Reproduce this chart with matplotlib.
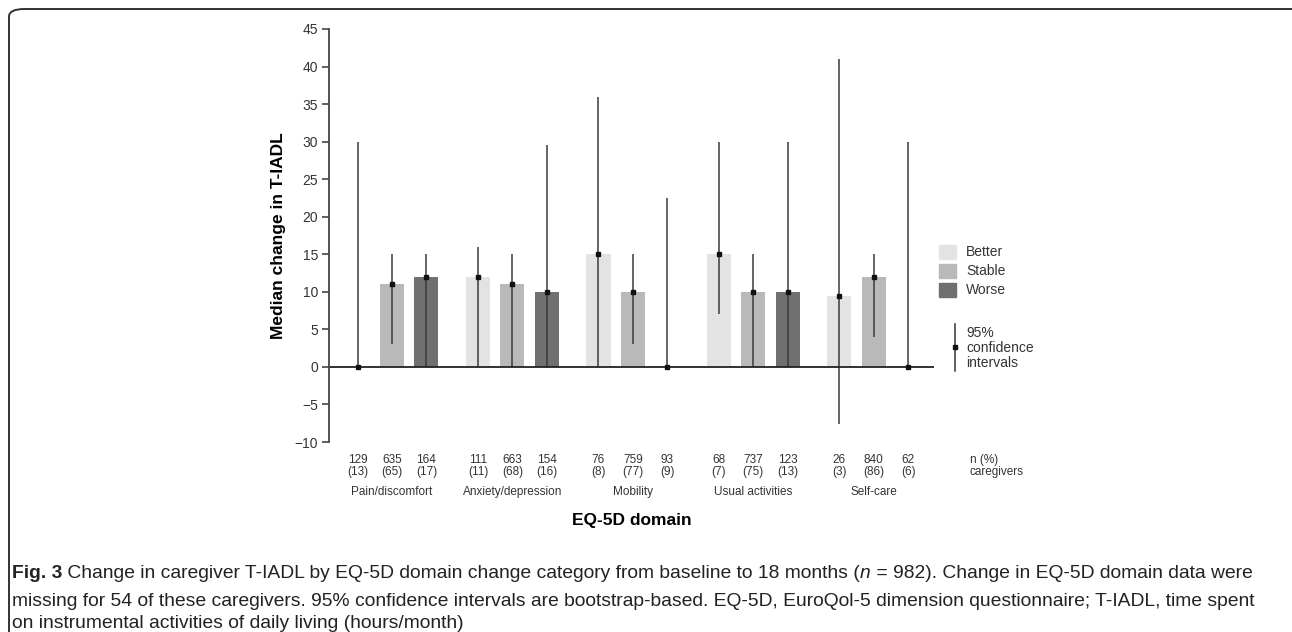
import matplotlib

matplotlib.use("Agg")
import matplotlib.pyplot as plt
from matplotlib import font_manager
from matplotlib.patches import FancyBboxPatch, Rectangle
from matplotlib.lines import Line2D
import matplotlib.transforms as mtransforms


domains = ["Pain/discomfort", "Anxiety/depression", "Mobility", "Usual activities", "Self-care"]
categories = ["Better", "Stable", "Worse"]
colors = ["#e3e3e3", "#b9b9b9", "#707070"]

# median change in T-IADL, per domain (rows) and category (cols)
medians = [
    [0, 11, 12],
    [12, 11, 10],
    [15, 10, 0],
    [15, 10, 10],
    [9.5, 12, 0],
]
ci_low = [
    [0, 3, 0],
    [0, 0, 0],
    [0, 3, 0],
    [7, 0, 0],
    [-7.6, 4, 0],
]
ci_high = [
    [30, 15, 15],
    [16, 15, 29.5],
    [36, 15, 22.5],
    [30, 15, 30],
    [41, 15, 30],
]
n_counts = [
    [129, 635, 164],
    [111, 663, 154],
    [76, 759, 93],
    [68, 737, 123],
    [26, 840, 62],
]
n_pct = [
    [13, 65, 17],
    [11, 68, 16],
    [8, 77, 9],
    [7, 75, 13],
    [3, 86, 6],
]
yticks = list(range(-10, 50, 5))

caption_bold = "Fig. 3"
caption_lines = [
    " Change in caregiver T-IADL by EQ-5D domain change category from baseline to 18 months (",
    "missing for 54 of these caregivers. 95% confidence intervals are bootstrap-based. EQ-5D, EuroQol-5 dimension questionnaire; T-IADL, time spent",
    "on instrumental activities of daily living (hours/month)",
]

names = {f.name for f in font_manager.fontManager.ttflist}
SANS = "Liberation Sans" if "Liberation Sans" in names else "DejaVu Sans"
plt.rcParams["font.family"] = SANS

fig = plt.figure(figsize=(12.92, 6.32), dpi=100)
W, H = 1292, 632
ax = fig.add_axes([329 / W, 1 - 442 / H, (934 - 329) / W, (442 - 29) / H])

group_gap = 3.5
bar_w = 0.7
for g in range(len(domains)):
    for j in range(len(categories)):
        x = g * group_gap + j
        ax.bar(x, medians[g][j], width=bar_w, color=colors[j], zorder=1)
        ax.vlines(x, ci_low[g][j], ci_high[g][j], color="#3a3a3a", lw=1.1, zorder=2)
        ax.plot(x, medians[g][j], "s", ms=3.2, color="#111111", zorder=3)

ax.set_xlim(-0.83, 16.75)
ax.set_ylim(-10, 45)
ax.axhline(0, color="#222222", lw=1.3, zorder=2)
for s in ["top", "right", "bottom"]:
    ax.spines[s].set_visible(False)
ax.spines["left"].set_color("#444444")
ax.spines["left"].set_linewidth(1.3)
ax.set_xticks([])
ax.set_yticks(yticks)
ax.set_yticklabels([str(t).replace("-", "\u2212") for t in yticks])
ax.tick_params(axis="y", length=5, width=1.2, color="#444444", labelsize=10, labelcolor="#333333", pad=3)
ax.set_ylabel("Median change in T-IADL", fontsize=12.5, fontweight="bold", labelpad=6)

# n (%) row and domain names below the plot
trans = mtransforms.blended_transform_factory(ax.transData, fig.transFigure)
for g in range(len(domains)):
    for j in range(len(categories)):
        x = g * group_gap + j
        ax.text(x, 1 - 466 / H, f"{n_counts[g][j]}\n({n_pct[g][j]})", transform=trans,
                ha="center", va="center", fontsize=8.5, color="#333333", linespacing=1.1)
    ax.text(g * group_gap + 1, 1 - 492 / H, domains[g], transform=trans,
            ha="center", va="center", fontsize=8.5, color="#333333")
fig.text(970 / W, 1 - 466 / H, "n (%)\ncaregivers", ha="left", va="center",
         fontsize=8.5, color="#333333", linespacing=1.1)
fig.text(632 / W, 1 - 521 / H, "EQ-5D domain", ha="center", va="center",
         fontsize=12.5, fontweight="bold")

# legend
for j, lab in enumerate(categories):
    y0 = 245 + j * 19
    fig.patches.append(Rectangle((939 / W, 1 - (y0 + 14) / H), 17 / W, 14 / H,
                                 transform=fig.transFigure, color=colors[j]))
    fig.text(966 / W, 1 - (y0 + 7) / H, lab, ha="left", va="center", fontsize=10, color="#333333")
fig.lines.append(Line2D([955 / W, 955 / W], [1 - 324 / H, 1 - 371 / H],
                        transform=fig.transFigure, color="#333333", lw=1.1))
fig.lines.append(Line2D([955 / W], [1 - 347 / H], transform=fig.transFigure,
                        marker="s", ms=3, color="#111111", lw=0))
fig.text(966 / W, 1 - 348 / H, "95%\nconfidence\nintervals", ha="left", va="center",
         fontsize=10, color="#333333", linespacing=1.05)

# frame
fig.patches.append(FancyBboxPatch((9 / W, -0.1), 1.2, 1 - 9 / H + 0.1,
                                  boxstyle="round,pad=0,rounding_size=0.012",
                                  transform=fig.transFigure, fill=False,
                                  ec="#333333", lw=1.4))

# caption
cap_fs = 13.9
rows_y = [574, 601, 623]
t = fig.text(12 / W, 1 - rows_y[0] / H, caption_bold, ha="left", va="center",
             fontsize=cap_fs, fontweight="bold", color="#222222")
fig.canvas.draw()
bb = t.get_window_extent()
t2 = fig.text(bb.x1 / W, 1 - rows_y[0] / H, caption_lines[0], ha="left", va="center",
              fontsize=cap_fs, color="#222222")
bb2 = t2.get_window_extent()
t3 = fig.text(bb2.x1 / W, 1 - rows_y[0] / H, "n", ha="left", va="center",
              fontsize=cap_fs, style="italic", color="#222222")
bb3 = t3.get_window_extent()
fig.text(bb3.x1 / W, 1 - rows_y[0] / H, " = 982). Change in EQ-5D domain data were", ha="left", va="center",
         fontsize=cap_fs, color="#222222")
fig.text(12 / W, 1 - rows_y[1] / H, caption_lines[1], ha="left", va="center",
         fontsize=cap_fs, color="#222222")
fig.text(12 / W, 1 - rows_y[2] / H, caption_lines[2], ha="left", va="center",
         fontsize=cap_fs, color="#222222")

fig.savefig("out.png", dpi=100)
